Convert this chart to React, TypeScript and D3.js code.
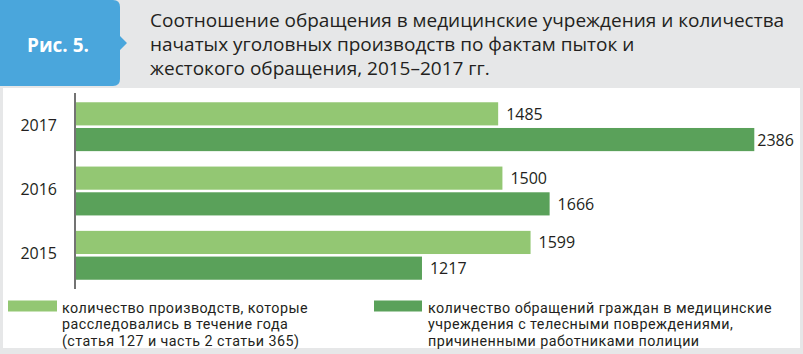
import React from "react";
import * as d3 from "d3";

const years = ["2017", "2016", "2015"];
const seriesKeys = ["cases", "appeals"];
const casesValues = [1485, 1500, 1599];
const appealsValues = [2386, 1666, 1217];
const titleLines = [
  "Соотношение обращения в медицинские учреждения и количества",
  "начатых уголовных производств по фактам пыток и",
  "жестокого обращения, 2015–2017 гг.",
];
const figLabel = "Рис. 5.";
const legendCases = [
  "количество производств, которые",
  "расследовались в течение года",
  "(статья 127 и часть 2 статьи 365)",
];
const legendAppeals = [
  "количество обращений граждан в медицинские",
  "учреждения с телесными повреждениями,",
  "причиненными работниками полиции",
];

const W = 803;
const H = 354;
const LIGHT = "#93c773";
const DARK = "#5aa15a";
const BLUE = "#4aa6dc";
const GRAY = "#e6e7e8";
const TEXT = "#231f20";
const FONT = "'Open Sans', 'Noto Sans', sans-serif";
const LEGEND_FONT = "Roboto, 'Liberation Sans', sans-serif";

export default function App() {
  const x = d3.scaleLinear().domain([0, 2386]).range([76, 754.3]);
  const y = d3
    .scaleBand<string>()
    .domain(years)
    .range([93, 289])
    .paddingInner(0.24)
    .paddingOuter(0.144);
  const ySub = d3
    .scaleBand<string>()
    .domain(seriesKeys)
    .range([0, y.bandwidth()])
    .paddingInner(0.1);

  const rows = years.map((yr, i) => ({
    yr,
    vals: [
      { key: "cases", v: casesValues[i], c: LIGHT },
      { key: "appeals", v: appealsValues[i], c: DARK },
    ],
  }));

  const blueW = 120;
  const blueH = 86;
  const r = 7;
  const bluePath = `M0,0 H${blueW - r} Q${blueW},0 ${blueW},${r} V${blueH / 2 - 7} L${blueW + 7},${blueH / 2} L${blueW},${blueH / 2 + 7} V${blueH - r} Q${blueW},${blueH} ${blueW - r},${blueH} H0 Z`;

  const legend = [
    { lines: legendCases, c: LIGHT, sx: 8, sw: 49, tx: 62 },
    { lines: legendAppeals, c: DARK, sx: 374, sw: 48, tx: 428 },
  ];

  return (
    <svg width={W} height={H} style={{ position: "absolute", left: 0, top: 0 }}>
      <rect x={0} y={0} width={W} height={H} fill={GRAY} />
      <rect x={3} y={88} width={797} height={260} fill="#ffffff" />
      <path d={bluePath} fill={BLUE} />
      <text
        x={58}
        y={52}
        textAnchor="middle"
        fill="#ffffff"
        fontFamily={FONT}
        fontWeight={700}
        fontSize={19}
      >
        {figLabel}
      </text>
      <text fill={TEXT} fontFamily={FONT} fontSize={19}>
        {titleLines.map((t, i) => (
          <tspan key={i} x={150} y={27 + i * 24}>
            {t}
          </tspan>
        ))}
      </text>
      <line x1={75} x2={75} y1={93} y2={289} stroke="#444" strokeWidth={1.5} />
      {rows.map((row) => (
        <g key={row.yr} transform={`translate(0,${y(row.yr)})`}>
          <text
            x={57}
            y={y.bandwidth() / 2 - 2}
            textAnchor="end"
            dominantBaseline="central"
            fill={TEXT}
            fontFamily={FONT}
            fontSize={16}
          >
            {row.yr}
          </text>
          {row.vals.map((d) => {
            const end = x(d.v);
            const lx = Math.min(end + 8, 797 - 40);
            return (
              <g key={d.key}>
                <rect
                  x={x(0)}
                  y={ySub(d.key)}
                  width={end - x(0)}
                  height={ySub.bandwidth()}
                  fill={d.c}
                />
                <text
                  x={Math.max(lx, end + 3)}
                  y={(ySub(d.key) || 0) + ySub.bandwidth() / 2}
                  dominantBaseline="central"
                  fill={TEXT}
                  fontFamily={FONT}
                  fontSize={16}
                >
                  {d.v}
                </text>
              </g>
            );
          })}
        </g>
      ))}
      {legend.map((lg, k) => (
        <g key={k}>
          <rect x={lg.sx} y={300.5} width={lg.sw} height={11} fill={lg.c} />
          <text fill={TEXT} fontFamily={LEGEND_FONT} fontSize={14.3} letterSpacing={0.45}>
            {lg.lines.map((t, i) => (
              <tspan key={i} x={lg.tx} y={312.5 + i * 16.8}>
                {t}
              </tspan>
            ))}
          </text>
        </g>
      ))}
    </svg>
  );
}
